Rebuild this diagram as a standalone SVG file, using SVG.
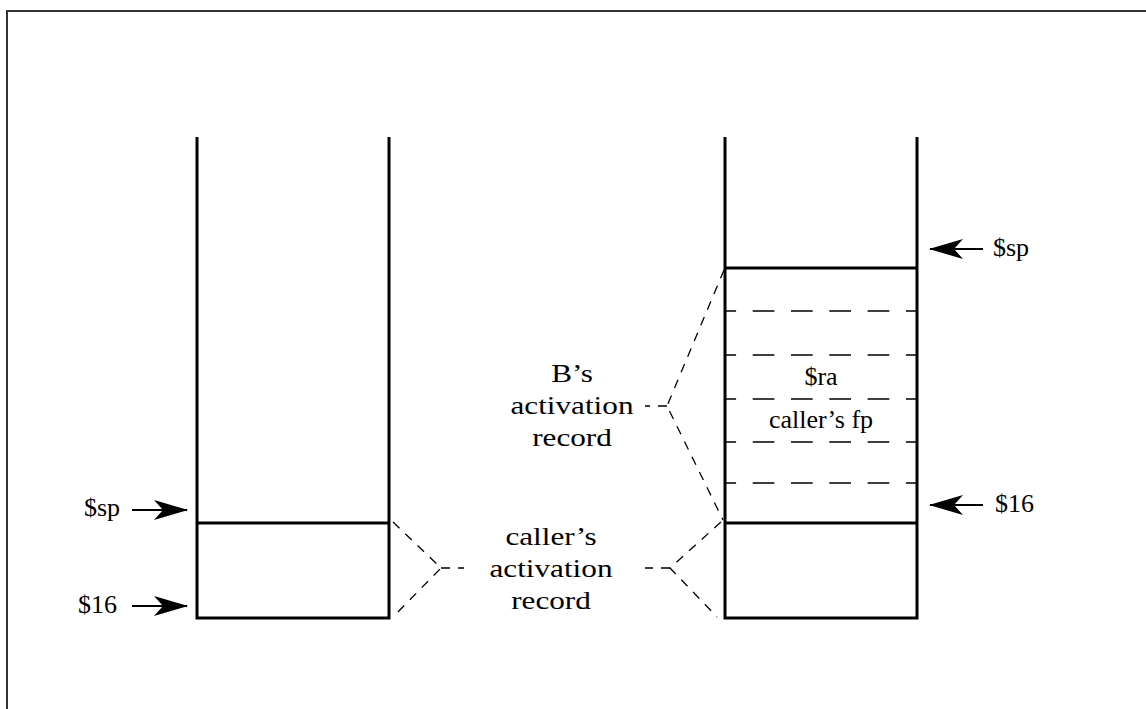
<svg xmlns="http://www.w3.org/2000/svg" width="1146" height="709" viewBox="0 0 1146 709">
<style>
.frame{fill:none;stroke:#333;stroke-width:2}
.wall{fill:none;stroke:#000;stroke-width:3}
.slot{fill:none;stroke:#000;stroke-width:1.6;stroke-dasharray:21.7 16.6;stroke-dashoffset:10.6}
.brace{fill:none;stroke:#000;stroke-width:1.3;stroke-dasharray:9 8}
.ptr{fill:none;stroke:#000;stroke-width:1.8}
text{font-family:'Liberation Serif',Tinos,'Times New Roman',Times,serif;font-size:26px;fill:#000}
.big{text-anchor:middle}
</style>
<defs>
<marker id="ah" viewBox="-36 -11 37 22" markerWidth="37" markerHeight="22" refX="0" refY="0" orient="auto" markerUnits="userSpaceOnUse">
<path d="M1,0 L-33,-10 L-24,0 L-33,10 Z" fill="#000"/>
</marker>
</defs>
<rect width="1146" height="709" fill="#fff"/>
<path class="frame" d="M7,720 V11 H1160"/>

<g id="stack-left">
<path class="wall" d="M197,137 V618 H389 V137"/>
<line class="wall" x1="197" y1="523" x2="389" y2="523"/>
</g>

<g id="stack-right">
<path class="wall" d="M725,137 V618 H917 V137"/>
<line class="wall" x1="725" y1="268" x2="917" y2="268"/>
<line class="wall" x1="725" y1="523" x2="917" y2="523"/>
<line class="slot" x1="725" y1="311" x2="917" y2="311"/>
<line class="slot" x1="725" y1="355" x2="917" y2="355"/>
<line class="slot" x1="725" y1="399" x2="917" y2="399"/>
<line class="slot" x1="725" y1="442" x2="917" y2="442"/>
<line class="slot" x1="725" y1="483" x2="917" y2="483"/>
<text class="big" x="821" y="385">$ra</text>
<text class="big" x="821" y="428">caller’s fp</text>
</g>

<g id="label-b">
<g transform="translate(572,0) scale(1.2,1)">
<text class="big" x="0" y="382">B’s</text>
<text class="big" x="0" y="414">activation</text>
<text class="big" x="0" y="446">record</text>
</g>
</g>

<g id="label-caller">
<g transform="translate(551,0) scale(1.2,1)">
<text class="big" x="0" y="545">caller’s</text>
<text class="big" x="0" y="577">activation</text>
<text class="big" x="0" y="609">record</text>
</g>
</g>

<g id="pointers">
<text x="120" y="516" text-anchor="end">$sp</text>
<line class="ptr" x1="132" y1="510" x2="187" y2="510" marker-end="url(#ah)"/>
<text x="117" y="613" text-anchor="end">$16</text>
<line class="ptr" x1="132" y1="606" x2="187" y2="606" marker-end="url(#ah)"/>
<line class="ptr" x1="983" y1="249" x2="930" y2="249" marker-end="url(#ah)"/>
<text x="993" y="256">$sp</text>
<line class="ptr" x1="983" y1="505" x2="930" y2="505" marker-end="url(#ah)"/>
<text x="995" y="512">$16</text>
</g>

<g id="connectors">
<path class="brace" d="M393,522 L441,568 L393,617"/>
<path class="brace" d="M441,568 H464"/>
<path class="brace" d="M721,522 L670,568 L717,617"/>
<path class="brace" d="M670,568 H645"/>
<path class="brace" d="M724,270 L667,406 L723,520"/>
<path class="brace" d="M667,406 H645"/>
</g>
</svg>
